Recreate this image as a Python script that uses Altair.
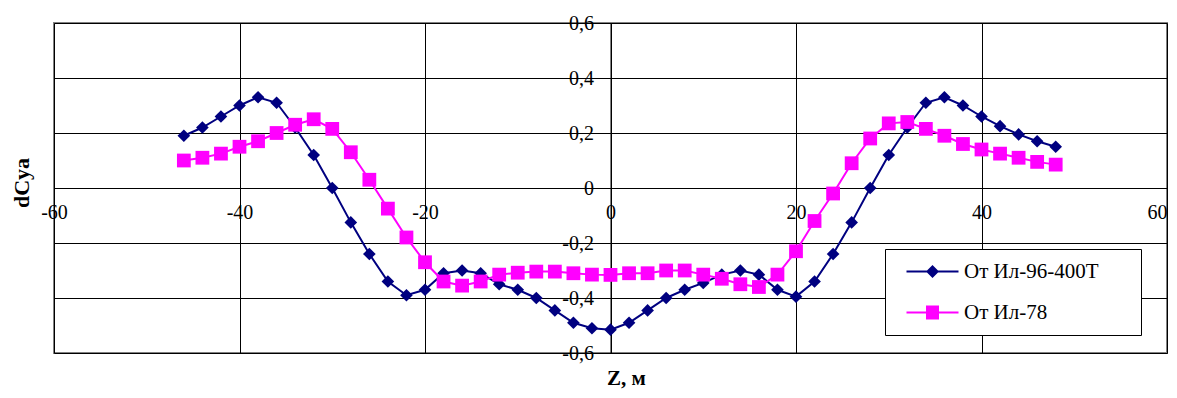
import altair as alt
import pandas as pd

# ---- data ----
z = [-46, -44, -42, -40, -38, -36, -34, -32, -30, -28, -26, -24, -22, -20, -18, -16,
     -14, -12, -10, -8, -6, -4, -2, 0, 2, 4, 6, 8, 10, 12, 14, 16,
     18, 20, 22, 24, 26, 28, 30, 32, 34, 36, 38, 40, 42, 44, 46, 48]
il96 = [0.19, 0.22, 0.26, 0.30, 0.33, 0.31, 0.22, 0.12, 0.00, -0.125, -0.24, -0.34,
        -0.39, -0.37, -0.31, -0.30, -0.31, -0.35, -0.37, -0.40, -0.445, -0.49, -0.51, -0.515,
        -0.49, -0.445, -0.40, -0.37, -0.345, -0.315, -0.30, -0.315, -0.37, -0.395, -0.34, -0.24,
        -0.125, 0.00, 0.12, 0.22, 0.31, 0.33, 0.30, 0.26, 0.225, 0.195, 0.17, 0.15]
il78 = [0.10, 0.11, 0.125, 0.15, 0.17, 0.20, 0.23, 0.25, 0.215, 0.13, 0.03, -0.075,
        -0.18, -0.27, -0.34, -0.355, -0.34, -0.315, -0.308, -0.304, -0.304, -0.31, -0.315, -0.316,
        -0.31, -0.31, -0.30, -0.30, -0.315, -0.33, -0.35, -0.36, -0.315, -0.23, -0.12, -0.02,
        0.09, 0.18, 0.235, 0.24, 0.215, 0.19, 0.16, 0.14, 0.125, 0.11, 0.095, 0.085]
series_names = ["От Ил-96-400Т", "От Ил-78"]
series_colors = ["#000080", "#FF00FF"]
x_ticks = [-60, -40, -20, 0, 20, 40, 60]
y_ticks = [-0.6, -0.4, -0.2, 0, 0.2, 0.4, 0.6]

# legend glyphs: a line segment with the marker in its middle
# (the tiny sub-path at the far right only widens the legend frame)
legend_paths = [
    "M-0.1,-0.1L5.1,-0.1L5.1,0.1L-0.1,0.1Z M2.5,-0.65L3.15,0L2.5,0.65L1.85,0Z "
    "M22.1,0L22.105,0L22.105,0.005Z",
    "M-0.1,-0.1L5.1,-0.1L5.1,0.1L-0.1,0.1Z M1.85,-0.7L3.15,-0.7L3.15,0.7L1.85,0.7Z "
    "M22.1,0L22.105,0L22.105,0.005Z",
]

df = pd.DataFrame({
    "z": z + z,
    "v": il96 + il78,
    "s": [series_names[0]] * len(z) + [series_names[1]] * len(z),
})

FONT = "Liberation Serif"
W, H = 1113, 330

xs = alt.Scale(domain=[-60, 60], nice=False, zero=False)
ys = alt.Scale(domain=[-0.6, 0.6], nice=False, zero=False)

x_axis = alt.Axis(
    values=x_ticks, offset=-H / 2, grid=True, gridColor="black", gridWidth=1,
    domainColor="black", domainWidth=1, tickColor="black", tickSize=5,
    labelPadding=9, labelFont=FONT, labelFontSize=20, labelColor="black",
    labelFlush=False, labelOverlap=False, labelBound=False,
    labelAlign={"condition": {"test": f"datum.value == {x_ticks[-1]}", "value": "right"},
                "value": "center"},
    labelExpr="toString(datum.value)",
    title="Z, м", titleFont=FONT, titleFontSize=21, titleFontWeight="bold",
    titleColor="black", titleX=572, titleY=196, titleAlign="center",
    titleBaseline="alphabetic", titleAngle=0,
)
y_axis = alt.Axis(
    values=y_ticks, offset=-W / 2, grid=True, gridColor="black", gridWidth=1,
    domainColor="black", domainWidth=1, tickColor="black", tickSize=5,
    labelPadding=12, labelFont=FONT, labelFontSize=20, labelColor="black",
    labelFlush=False, labelOverlap=False, labelBound=False,
    labelExpr="datum.value == 0 ? '0' : replace(toString(round(datum.value*10)/10), '.', ',')",
    title="dCya", titleFont=FONT, titleFontSize=22, titleFontWeight="bold",
    titleColor="black", titleX=-589.5, titleY=159.5, titleAngle=-90,
    titleAlign="center", titleBaseline="middle",
)

base = alt.Chart(df)
X = alt.X("z:Q", scale=xs, axis=x_axis)
Y = alt.Y("v:Q", scale=ys, axis=y_axis)

d96 = base.transform_filter(alt.datum.s == series_names[0])
d78 = base.transform_filter(alt.datum.s == series_names[1])

line96 = d96.mark_line(color=series_colors[0], strokeWidth=2).encode(x=X, y=Y)
pts96 = d96.mark_point(shape="diamond", filled=True, size=160, opacity=1,
                       color=series_colors[0]).encode(x="z:Q", y="v:Q")
line78 = d78.mark_line(color=series_colors[1], strokeWidth=2).encode(x="z:Q", y="v:Q")
pts78 = d78.mark_point(shape="square", filled=True, size=190, opacity=1,
                       color=series_colors[1]).encode(x="z:Q", y="v:Q")

leg = alt.Legend(
    orient="none", legendX=831, legendY=226, title=None,
    fillColor="white", strokeColor="black", padding=12,
    symbolSize=400, symbolStrokeWidth=0, symbolOpacity=1,
    labelFont=FONT, labelFontSize=21, labelColor="black", labelOffset=46,
    rowPadding=19, labelLimit=400,
)
legend_layer = base.transform_filter("false").mark_point(filled=True, opacity=1).encode(
    x="z:Q", y="v:Q",
    color=alt.Color("s:N", scale=alt.Scale(domain=series_names, range=series_colors), legend=leg),
    shape=alt.Shape("s:N", scale=alt.Scale(domain=series_names, range=legend_paths), legend=leg),
)

chart = alt.layer(line96, pts96, line78, pts78, legend_layer).properties(
    width=W, height=H,
    padding={"left": 46, "top": 15, "right": 2, "bottom": 37},
    autosize=alt.AutoSizeParams(type="none"),
    background="white",
).configure_view(stroke="#808080", strokeWidth=2)

chart.save("out.html", embed_options={"renderer": "svg", "actions": False})
